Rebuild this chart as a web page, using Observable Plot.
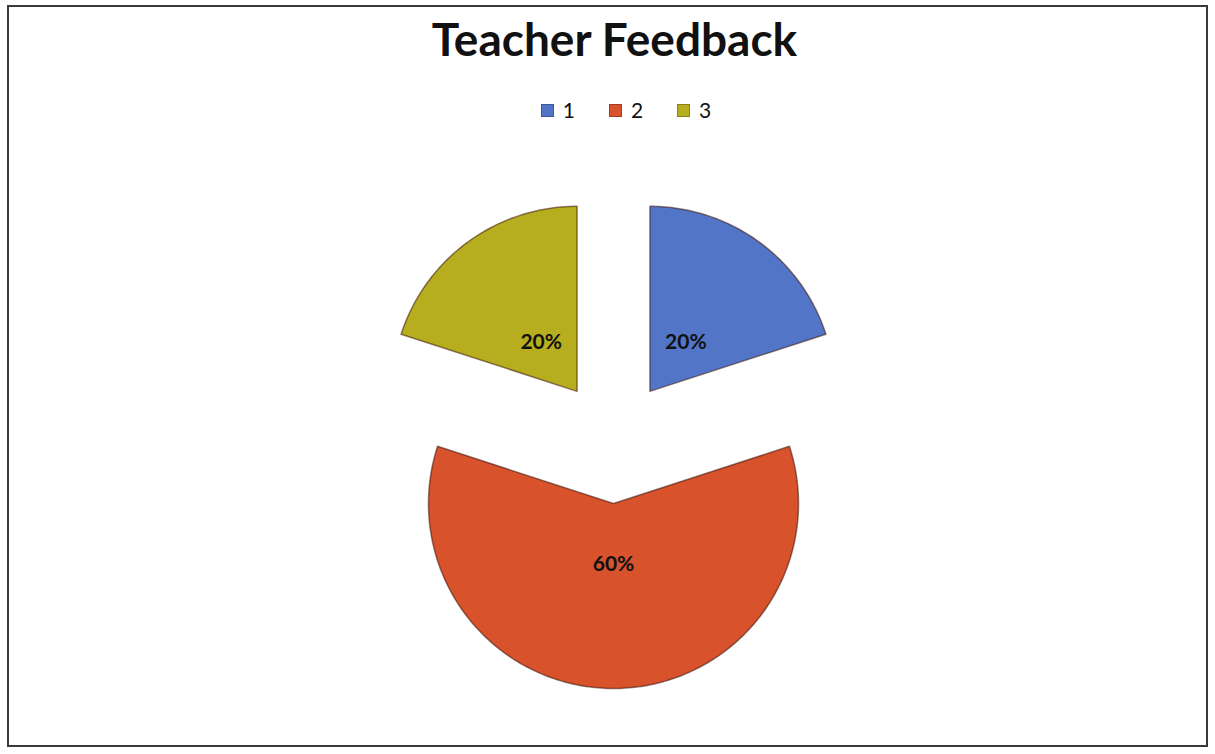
<!DOCTYPE html>
<html>
<head>
<meta charset="utf-8">
<script src="https://cdn.jsdelivr.net/npm/d3@7"></script>
<script src="https://cdn.jsdelivr.net/npm/@observablehq/plot@0.6"></script>
<style>
  html, body { margin: 0; padding: 0; background: #fff; }
  #wrap { position: relative; width: 1215px; height: 754px; overflow: hidden; background: #fff; }
  #frame { position: absolute; left: 7px; top: 5px; width: 1201px; height: 742px; border: 2px solid #3a3a3a; box-sizing: border-box; pointer-events: none; }
  #title { position: absolute; left: 0; width: 1229px; top: 9px; text-align: center; font-family: Lato, "Open Sans", sans-serif; font-weight: 700; font-size: 46px; color: #111; line-height: 60px; }
  #legend { position: absolute; left: 0; width: 1252px; top: 97px; display: flex; justify-content: center; gap: 34px; font-family: Lato, "Open Sans", sans-serif; font-size: 21px; color: #111; line-height: 26px; }
  .item { display: flex; align-items: center; gap: 9px; }
  .sw { width: 13px; height: 13px; box-sizing: border-box; }
  #chart { position: absolute; left: 0; top: 0; }
</style>
</head>
<body>
<div id="wrap">
  <div id="chart"></div>
  <div id="title"></div>
  <div id="legend"></div>
  <div id="frame"></div>
</div>
<script>
const title = "Teacher Feedback";
const categories = ["1", "2", "3"];
const values = [20, 60, 20];
const percentLabels = ["20%", "60%", "20%"];
const colors = ["#5275c8", "#d8522c", "#b6ae1e"];

// Layout (pixels)
const W = 1215, H = 754;
const cx = 613, cy = 441, R = 185, explode = 62;

document.getElementById("title").textContent = title;
const legend = document.getElementById("legend");
categories.forEach((c, i) => {
  const it = document.createElement("div");
  it.className = "item";
  const sw = document.createElement("div");
  sw.className = "sw";
  sw.style.background = colors[i];
  sw.style.border = "1px solid " + d3.color(colors[i]).darker(0.8);
  const t = document.createElement("span");
  t.textContent = c;
  it.appendChild(sw); it.appendChild(t);
  legend.appendChild(it);
});

// Build slices in unit-radius coordinates (y up), angles clockwise from top
const pie = d3.pie().sort(null).value(v => v)(values);
const d = explode / R;
const slicePts = [];
const labelPts = [];
pie.forEach((p, i) => {
  const mid = (p.startAngle + p.endAngle) / 2;
  const ox = d * Math.sin(mid), oy = d * Math.cos(mid);
  slicePts.push({x: ox, y: oy, cat: categories[i]});
  const n = Math.max(8, Math.round((p.endAngle - p.startAngle) * 60));
  for (let k = 0; k <= n; k++) {
    const a = p.startAngle + (p.endAngle - p.startAngle) * k / n;
    slicePts.push({x: ox + Math.sin(a), y: oy + Math.cos(a), cat: categories[i]});
  }
  slicePts.push({x: ox, y: oy, cat: categories[i]});
  const lr = 0.33;
  labelPts.push({x: ox + lr * Math.sin(mid), y: oy + lr * Math.cos(mid), text: percentLabels[i]});
});

const chart = Plot.plot({
  width: W, height: H,
  margin: 0,
  x: {domain: [-cx / R, (W - cx) / R], range: [0, W], axis: null},
  y: {domain: [(cy - H) / R, cy / R], range: [H, 0], axis: null},
  color: {domain: categories, range: colors},
  style: {background: "transparent"},
  marks: [
    Plot.line(slicePts, {x: "x", y: "y", z: "cat", fill: "cat", stroke: "rgba(60,20,10,0.55)", strokeWidth: 1.5, curve: "linear"}),
    Plot.text(labelPts, {x: "x", y: "y", text: "text", fontSize: 21, fontWeight: 700, fill: "#111", fontFamily: "Lato, 'Open Sans', sans-serif"})
  ]
});
document.getElementById("chart").appendChild(chart);
</script>
</body>
</html>
